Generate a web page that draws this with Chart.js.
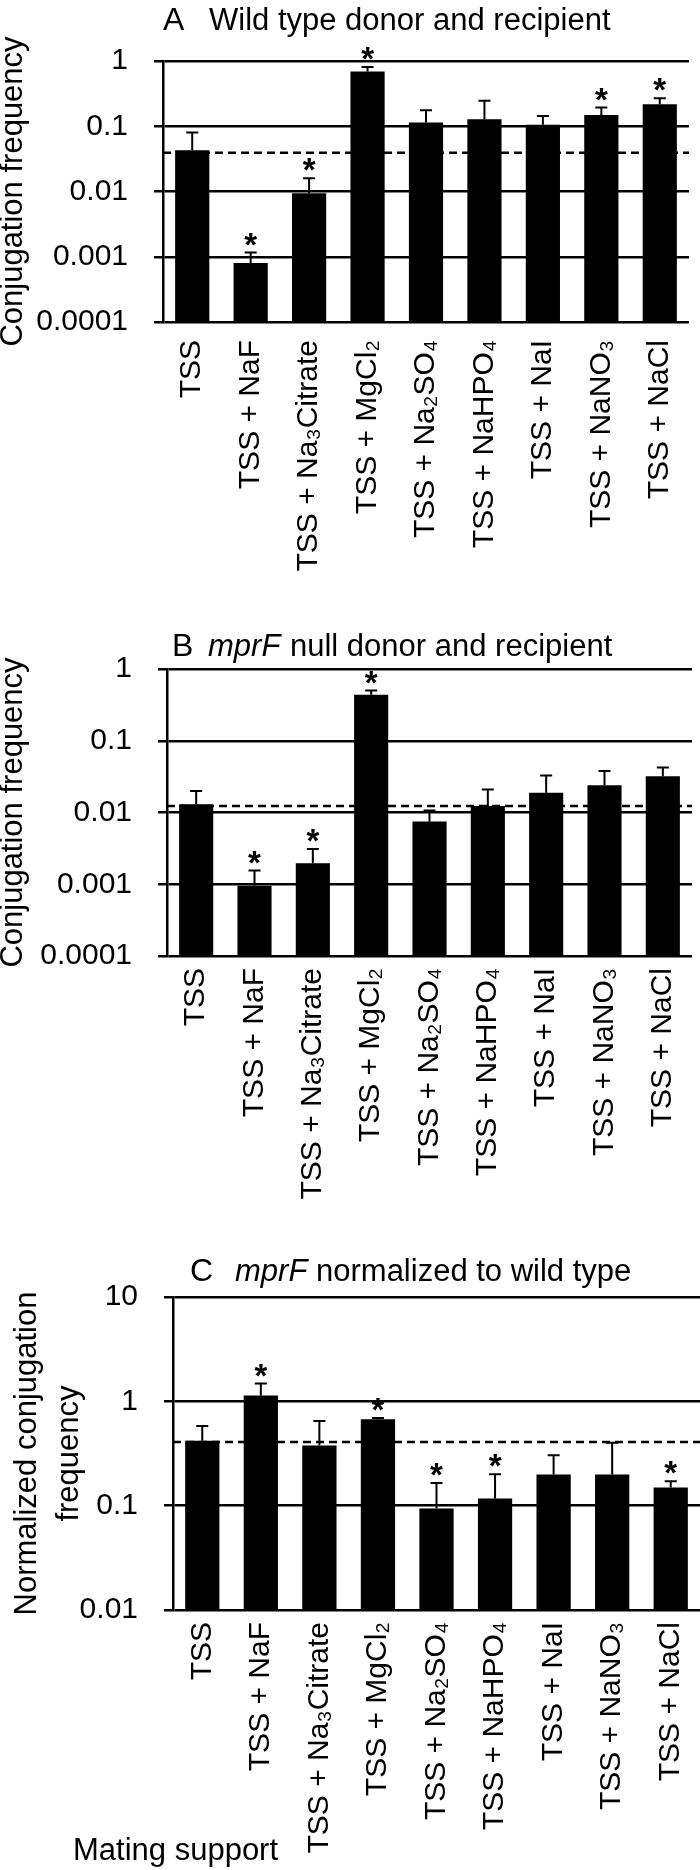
<!DOCTYPE html>
<html>
<head>
<meta charset="utf-8">
<script src="https://cdn.jsdelivr.net/npm/chart.js@4.4.1/dist/chart.umd.min.js"></script>
<style>
  body { margin: 0; background: #fff; }
  #page { position: relative; width: 700px; height: 1870px; overflow: hidden; font-family: 'Liberation Sans', Arial, sans-serif; color: #000; }
  canvas { position: absolute; left: 0; }
  .t { position: absolute; white-space: nowrap; line-height: 1; }
</style>
</head>
<body>
<div id="page">
  <canvas id="chartA" width="700" height="590" style="top:0"></canvas>
  <canvas id="chartB" width="700" height="600" style="top:600px"></canvas>
  <canvas id="chartC" width="700" height="660" style="top:1210px"></canvas>

  <span class="t" style="left:163px;top:3px;font-size:32px">A</span>
  <span class="t" style="left:209px;top:4px;font-size:31px">Wild type donor and recipient</span>

  <span class="t" style="left:172px;top:629px;font-size:32px">B</span>
  <span class="t" style="left:208px;top:630px;font-size:31px;font-style:italic">mprF</span>
  <span class="t" style="left:290px;top:630px;font-size:31px">null donor and recipient</span>

  <span class="t" style="left:190px;top:1254px;font-size:32px">C</span>
  <span class="t" style="left:235px;top:1255px;font-size:31px;font-style:italic">mprF</span>
  <span class="t" style="left:316px;top:1255px;font-size:31px">normalized to wild type</span>

  <span class="t" style="left:73px;top:1834px;font-size:31px">Mating support</span>
</div>
<script>
// mating supports (x categories)
const supports = ['TSS', 'TSS + NaF', 'TSS + Na₃Citrate', 'TSS + MgCl₂', 'TSS + Na₂SO₄',
  'TSS + NaHPO₄', 'TSS + NaI', 'TSS + NaNO₃', 'TSS + NaCl'];

// A: wild type donor and recipient
const freqA = [0.043, 0.0008, 0.0094, 0.69, 0.114, 0.128, 0.105, 0.149, 0.217];
const errTopA = [0.080, 0.00116, 0.016, 0.81, 0.176, 0.247, 0.144, 0.193, 0.268];
const sigA = [false, true, true, true, false, false, false, true, true];
const refA = 0.0394;

// B: mprF null donor and recipient
const freqB = [0.013, 0.00095, 0.00196, 0.436, 0.0075, 0.0123, 0.0189, 0.024, 0.032];
const errTopB = [0.020, 0.00155, 0.0031, 0.50, 0.0107, 0.0209, 0.0327, 0.038, 0.0424];
const sigB = [false, true, true, true, false, false, false, false, false];
const refB = 0.0123;

// C: mprF normalized to wild type
const freqC = [0.418, 1.14, 0.378, 0.675, 0.094, 0.117, 0.199, 0.199, 0.149];
const errTopC = [0.58, 1.48, 0.648, 0.694, 0.165, 0.20, 0.305, 0.40, 0.171];
const sigC = [false, true, false, true, true, true, false, false, true];
const refC = 0.408;

const ticksAB = [0.0001, 0.001, 0.01, 0.1, 1];
const tickLabelsAB = ['0.0001', '0.001', '0.01', '0.1', '1'];
const ticksC = [0.01, 0.1, 1, 10];
const tickLabelsC = ['0.01', '0.1', '1', '10'];

Chart.defaults.font.family = "'Liberation Sans', Arial, sans-serif";
Chart.defaults.color = '#000';

// dashed reference line, error bars and asterisks
const extras = {
  id: 'extras',
  beforeDatasetsDraw(chart, args, opts) {
    const { ctx, chartArea } = chart;
    const py = chart.scales.y.getPixelForValue(opts.ref);
    ctx.save();
    ctx.strokeStyle = '#000';
    ctx.lineWidth = 2.5;
    ctx.setLineDash([8, 5]);
    ctx.beginPath();
    ctx.moveTo(chartArea.left, py);
    ctx.lineTo(chartArea.right, py);
    ctx.stroke();
    ctx.restore();
  },
  afterDatasetsDraw(chart, args, opts) {
    const { ctx } = chart;
    const { x, y } = chart.scales;
    ctx.save();
    ctx.strokeStyle = '#000';
    ctx.fillStyle = '#000';
    ctx.lineWidth = 2;
    ctx.font = "bold 33px 'Liberation Sans', Arial, sans-serif";
    ctx.textAlign = 'center';
    ctx.textBaseline = 'alphabetic';
    opts.high.forEach((h, i) => {
      const px = x.getPixelForValue(i);
      const top = y.getPixelForValue(h);
      const base = y.getPixelForValue(opts.values[i]);
      ctx.beginPath();
      ctx.moveTo(px, base);
      ctx.lineTo(px, top);
      ctx.moveTo(px - 6, top);
      ctx.lineTo(px + 6, top);
      ctx.stroke();
      if (opts.sig[i]) ctx.fillText('*', px, top + 3);
    });
    ctx.restore();
  }
};

function makeChart(id, cfg) {
  const canvas = document.getElementById(id);
  return new Chart(canvas, {
    type: 'bar',
    data: {
      labels: supports,
      datasets: [{
        data: cfg.values,
        backgroundColor: '#000',
        borderWidth: 0,
        barPercentage: 0.585,
        categoryPercentage: 1
      }]
    },
    options: {
      responsive: false,
      animation: false,
      layout: { padding: { top: cfg.top, right: cfg.right, left: 0, bottom: 0 } },
      plugins: {
        legend: { display: false },
        tooltip: { enabled: false },
        extras: { ref: cfg.ref, high: cfg.high, values: cfg.values, sig: cfg.sig }
      },
      scales: {
        x: {
          grid: { display: false, drawTicks: false },
          border: { display: false },
          ticks: {
            autoSkip: false,
            maxRotation: 90,
            minRotation: 90,
            padding: cfg.labelGap,
            font: { size: 30 }
          },
          afterFit(scale) {
            scale.height = canvas.height - cfg.bottom;
            scale.paddingLeft = 0;
            scale.paddingRight = 0;
          }
        },
        y: {
          type: 'logarithmic',
          min: cfg.ticks[0],
          max: cfg.ticks[cfg.ticks.length - 1],
          afterBuildTicks(scale) {
            scale.ticks = cfg.ticks.map(v => ({ value: v }));
          },
          ticks: {
            padding: 26,
            font: { size: 30 },
            callback: (v, i) => cfg.tickLabels[i]
          },
          grid: { color: '#000', lineWidth: 2.5, tickLength: 9 },
          border: { display: true, color: '#000', width: 2.5 },
          title: {
            display: true,
            text: cfg.title,
            font: { size: 31, lineHeight: cfg.titleLH },
            padding: { top: cfg.titlePad, bottom: 0 }
          },
          afterFit(scale) {
            scale.width = cfg.left;
            scale.paddingTop = 0;
            scale.paddingBottom = 0;
          }
        }
      }
    },
    plugins: [extras]
  });
}

makeChart('chartA', {
  values: freqA, high: errTopA, sig: sigA, ref: refA,
  ticks: ticksAB, tickLabels: tickLabelsAB,
  title: 'Conjugation frequency', titleLH: 0.7, titlePad: 3,
  top: 61, bottom: 322, left: 163, right: 11, labelGap: 18
});

makeChart('chartB', {
  values: freqB, high: errTopB, sig: sigB, ref: refB,
  ticks: ticksAB, tickLabels: tickLabelsAB,
  title: 'Conjugation frequency', titleLH: 0.7, titlePad: 3,
  top: 69, bottom: 356, left: 167, right: 8, labelGap: 12
});

makeChart('chartC', {
  values: freqC, high: errTopC, sig: sigC, ref: refC,
  ticks: ticksC, tickLabels: tickLabelsC,
  title: ['Normalized conjugation', 'frequency'], titleLH: 1.35, titlePad: 7,
  top: 87, bottom: 400, left: 173, right: 0, labelGap: 12
});
</script>
</body>
</html>
